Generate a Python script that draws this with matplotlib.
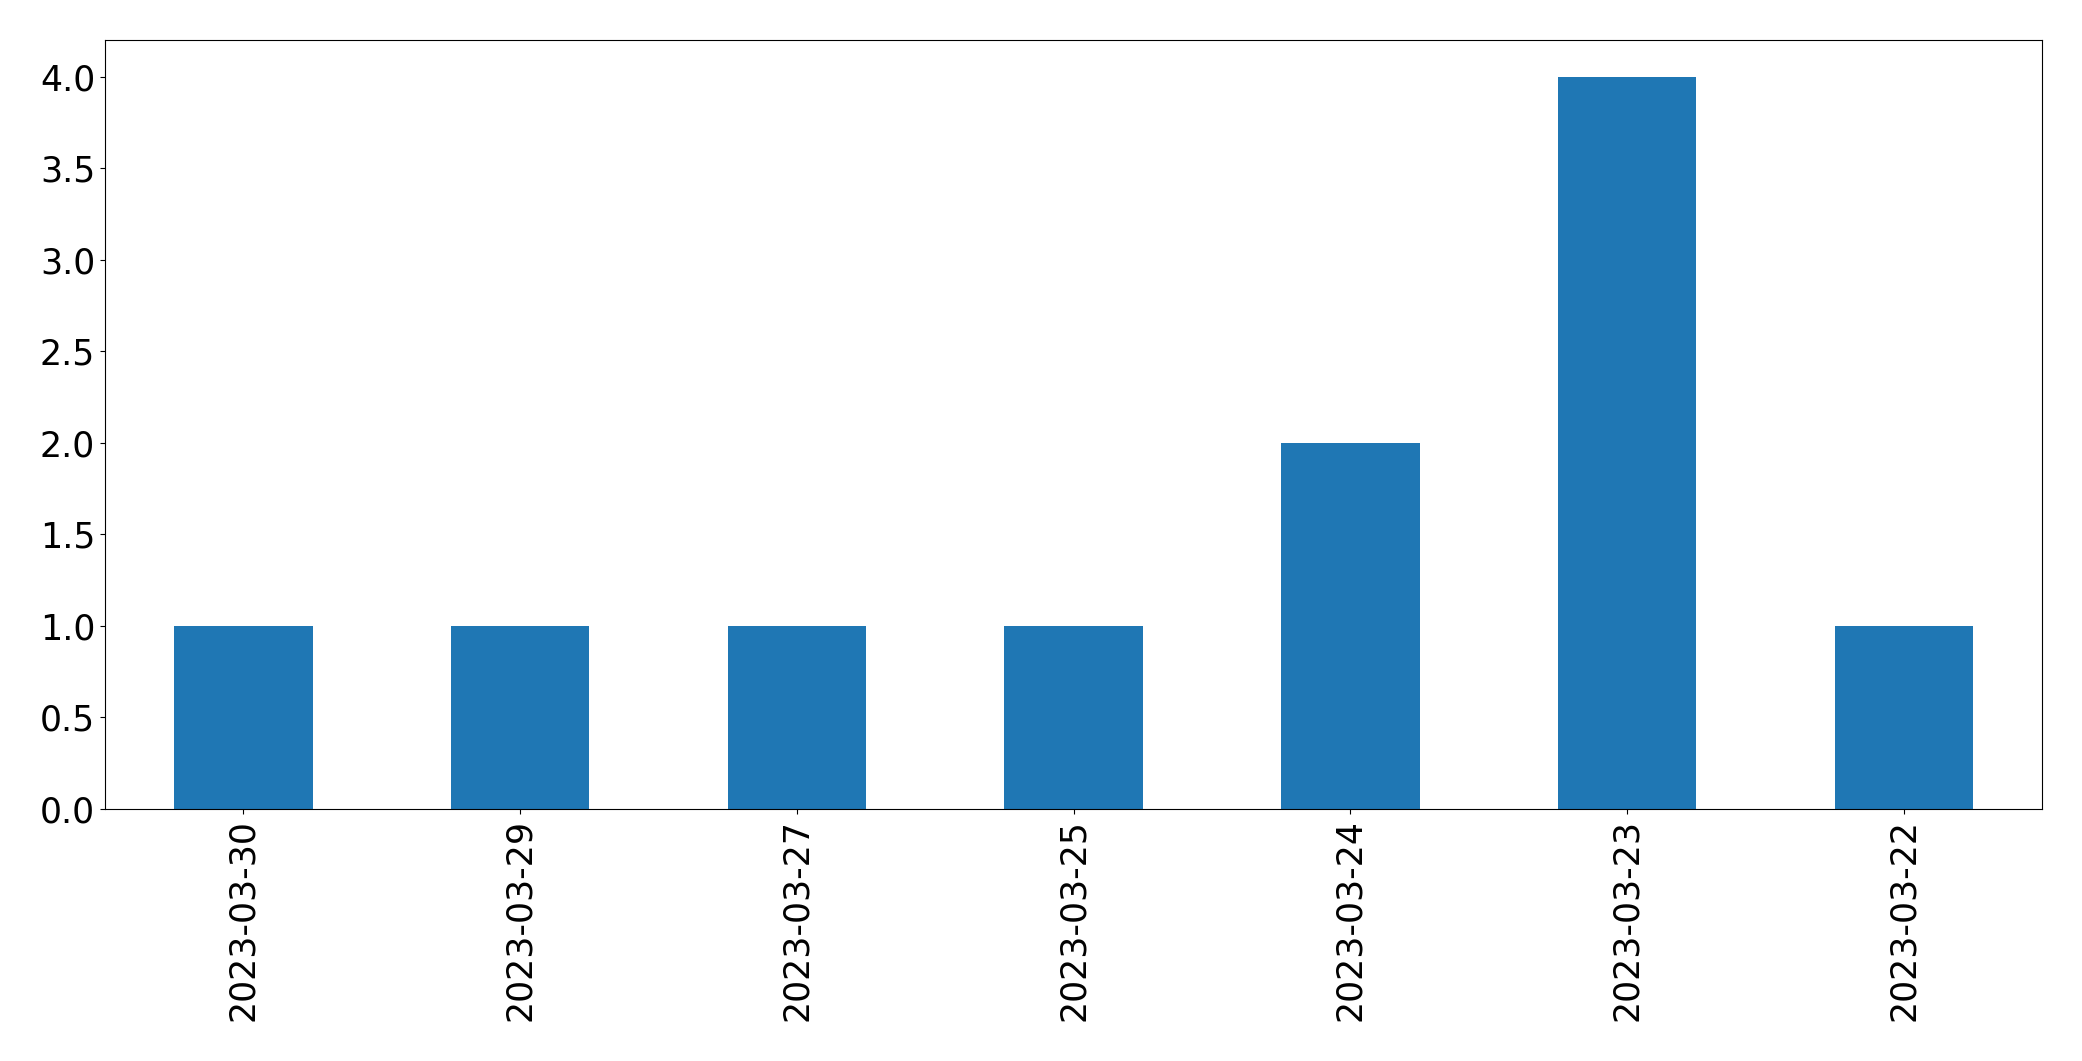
import matplotlib
matplotlib.use("Agg")
import matplotlib.pyplot as plt
import pandas as pd

dates = ["2023-03-30", "2023-03-29", "2023-03-27", "2023-03-25", "2023-03-24", "2023-03-23", "2023-03-22"]
counts = [1, 1, 1, 1, 2, 4, 1]

fig = plt.figure(figsize=(20.82, 10.61), dpi=100)
ax = fig.add_axes([0.0504, 0.2375, 0.9306, 0.7248])
s = pd.Series(counts, index=dates)
s.plot(kind="bar", ax=ax, color="#1f77b4", fontsize=25)
fig.savefig("out.png", dpi=100)
